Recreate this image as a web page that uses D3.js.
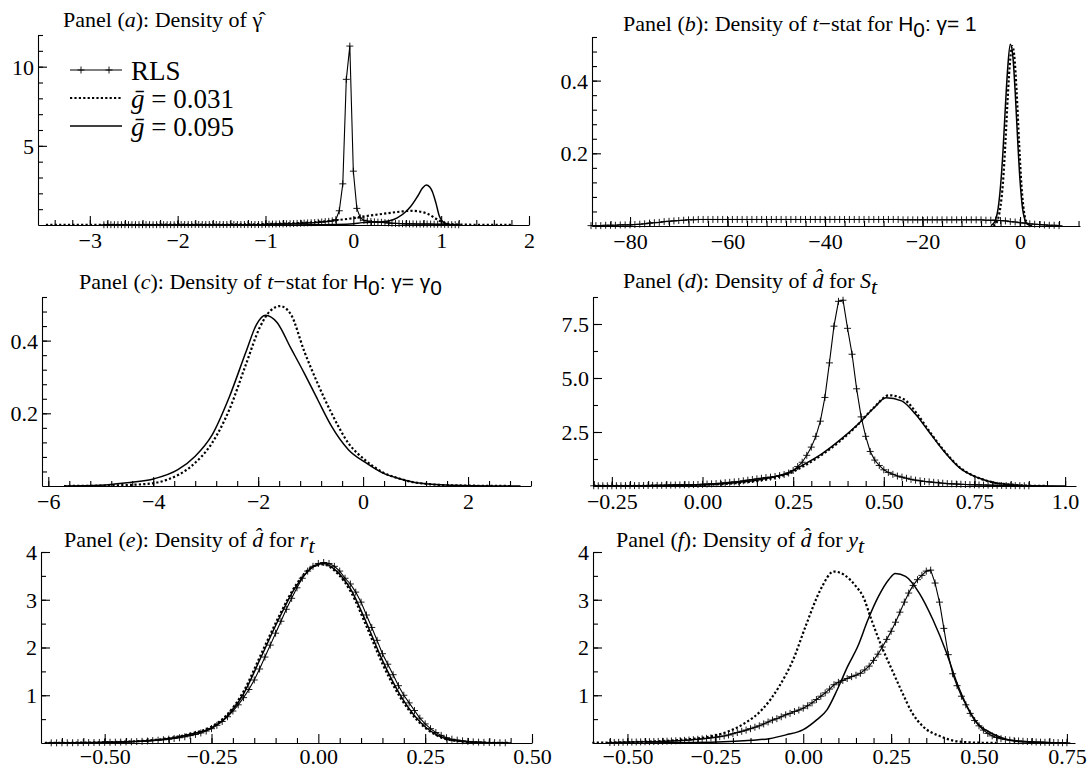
<!DOCTYPE html>
<html>
<head>
<meta charset="utf-8">
<script src="https://cdn.jsdelivr.net/npm/d3@7"></script>
<style>
body { margin: 0; background: #fff; }
svg text { font-family: "Liberation Serif", "Times New Roman", serif; fill: #000; }
</style>
</head>
<body>
<div id="chart"></div>
<script>
// Series names (legend of panel a).
var seriesNames = ["RLS", "0.031", "0.095"];

// Panel (a): density of gamma-hat.
var aRlsX0 = -2.84, aRlsDx = 0.04;
var aRls = [0.02,0.02,0.02,0.02,0.02,0.02,0.02,0.02,0.02,0.02,0.02,0.02,0.02,0.02,0.02,0.02,0.02,0.02,0.02,0.02,0.02,
    0.03,0.03,0.03,0.03,0.03,0.03,0.03,0.03,0.03,0.03,0.03,0.03,0.03,0.03,0.03,0.03,0.03,0.03,0.03,0.03,0.03,0.03,0.03,0.03,0.03,
    0.05,0.05,0.06,0.06,0.07,0.07,0.08,0.08,0.09,
    0.1,0.11,0.12,0.13,0.14,0.15,0.17,0.19,0.21,0.23,0.26,0.33,
    0.9,2.6,9.2,11.3,3.4,1.05,
    0.45,0.3,0.25,0.22,0.2,0.18,0.17,0.15,0.13,0.11,0.1,0.09,0.08,
    0.07,0.07,0.07,0.06,0.06,0.06,0.06,0.06,0.05,0.05,
    0.05,0.04,0.03,0.02,0.02,0.01];
var aG031 = [[-3.5,0.005],[-3,0.01],[-2.5,0.015],[-2,0.02],[-1.5,0.03],[-1,0.06],[-0.6,0.13],[-0.4,0.19],[-0.2,0.3],
    [0,0.43],[0.13,0.55],[0.33,0.7],[0.53,0.84],[0.65,0.9],[0.75,0.85],[0.85,0.7],[0.94,0.4],[1.04,0.12],
    [1.15,0.04],[1.3,0.02],[1.5,0.01],[1.82,0.005]];
var aG095 = [[-1.5,0],[-0.5,0.01],[-0.2,0.03],[0,0.08],[0.1,0.15],[0.2,0.18],[0.3,0.19],[0.4,0.25],[0.5,0.45],
    [0.6,0.85],[0.65,1.15],[0.73,1.8],[0.79,2.35],[0.83,2.53],[0.87,2.4],[0.9,2.1],[0.94,1.4],[0.98,0.55],
    [1.02,0.2],[1.06,0.08],[1.12,0.02],[1.2,0]];
var aXTicks = [-3,-2,-1,0,1,2];
var aXLabels = ["\u22123","\u22122","\u22121","0","1","2"];
var aYTicks = [5,10];
var aYLabels = ["5","10"];

// Panel (b): t-stat for H0: gamma = 1.
var bRlsX0 = -88, bRlsDx = 1;
var bRls = [0.001,0.001,0.001,0.002,0.002,0.002,0.003,0.003,0.003,
    0.004,0.005,0.006,0.008,0.009,0.01,0.012,0.013,0.014,0.015,0.016,0.017,0.017,
    0.018,0.018,0.018,0.018,0.018,0.018,0.018,0.018,0.018,0.018,0.018,0.018,0.018,0.018,0.018,0.018,0.018,0.018,0.018,0.018,0.018,0.018,
    0.018,0.018,0.018,0.018,0.018,0.018,0.018,0.018,0.018,0.018,0.018,0.018,0.018,0.018,0.018,0.018,0.018,0.018,0.018,0.018,
    0.017,0.017,0.017,0.017,0.017,0.017,0.017,0.017,0.017,0.017,0.017,0.017,0.017,0.017,0.017,
    0.017,0.017,0.016,0.016,0.016,0.015,0.014,
    0.012,0.011,0.009,0.008,0.006,0.005,0.004,0.003,0.002,0.002,0.001];
var bG031 = [[-5.5,0.001],[-5,0.006],[-4.5,0.02],[-4,0.055],[-3.5,0.12],[-3,0.23],[-2.5,0.36],[-2,0.46],[-1.6,0.495],
    [-1.2,0.47],[-0.7,0.37],[-0.2,0.23],[0.3,0.11],[0.8,0.04],[1.3,0.012],[2,0.002]];
var bG095 = [[-6,0.001],[-5.5,0.006],[-5,0.018],[-4.5,0.048],[-4,0.11],[-3.5,0.205],[-3,0.33],[-2.5,0.44],[-2,0.5],
    [-1.5,0.47],[-1,0.37],[-0.5,0.24],[0,0.125],[0.5,0.05],[1,0.017],[1.5,0.005],[2.5,0.001]];
var bXTicks = [-80,-60,-40,-20,0];
var bXLabels = ["\u221280","\u221260","\u221240","\u221220","0"];
var bYTicks = [0.2,0.4];
var bYLabels = ["0.2","0.4"];

// Panel (c): t-stat for H0: gamma = gamma0.
var cG031 = [[-5.7,0],[-5,0.001],[-4.18,0.005],[-3.72,0.018],[-3.27,0.055],[-2.88,0.118],[-2.55,0.21],[-2.23,0.336],
    [-1.97,0.436],[-1.77,0.482],[-1.58,0.495],[-1.38,0.473],[-1.12,0.37],[-0.86,0.28],[-0.6,0.2],[-0.28,0.118],
    [0.05,0.07],[0.37,0.038],[0.7,0.02],[1.02,0.009],[1.67,0.002],[2.8,0]];
var cG095 = [[-5.7,0],[-5,0.002],[-4.5,0.009],[-3.98,0.02],[-3.53,0.045],[-3.2,0.082],[-2.88,0.14],[-2.55,0.245],
    [-2.23,0.37],[-2.03,0.445],[-1.86,0.47],[-1.64,0.45],[-1.38,0.38],[-1.12,0.31],[-0.86,0.236],[-0.6,0.164],
    [-0.28,0.1],[0.05,0.064],[0.37,0.036],[0.7,0.02],[1.02,0.009],[1.67,0.002],[2.5,0],[3.0,0]];
var cXTicks = [-6,-4,-2,0,2];
var cXLabels = ["\u22126","\u22124","\u22122","0","2"];
var cYTicks = [0.2,0.4];
var cYLabels = ["0.2","0.4"];

// Panel (d): d-hat for S_t.
var dRlsX0 = -0.3, dRlsDx = 0.0125;
var dRls = [0.01,0.01,0.01,0.01,0.01,0.015,0.015,0.02,0.02,0.02,
    0.02,0.025,0.025,0.03,0.03,0.03,0.035,0.04,0.045,0.05,
    0.055,0.06,0.065,0.07,0.08,0.09,0.1,0.11,0.13,0.15,
    0.17,0.19,0.21,0.24,0.27,0.3,0.33,0.36,0.39,0.41,
    0.44,0.48,0.53,0.6,0.72,0.9,1.1,1.42,1.8,2.3,
    3.0,4.1,5.7,7.4,8.55,8.6,7.3,6.1,4.5,3.2,
    2.3,1.6,1.2,0.95,0.75,0.63,0.54,0.46,0.41,0.36,
    0.31,0.27,0.24,0.21,0.19,0.17,0.15,0.13,0.11,0.1,
    0.09,0.08,0.07,0.06,0.055,0.05,0.045,0.04,0.035,0.03,
    0.025,0.02,0.02,0.015,0.015,0.01,0.01];
var dG031 = [[-0.3,0.003],[-0.2,0.008],[-0.1,0.02],[0,0.05],[0.09,0.13],[0.186,0.34],[0.234,0.55],[0.28,0.93],
    [0.33,1.45],[0.377,2.05],[0.425,2.78],[0.472,3.62],[0.515,4.2],[0.555,4.02],[0.59,3.38],[0.625,2.55],
    [0.663,1.7],[0.71,0.85],[0.76,0.38],[0.806,0.15],[0.854,0.06],[0.9,0.015],[0.95,0.005]];
var dG095 = [[-0.3,0.005],[-0.2,0.01],[-0.1,0.025],[0,0.06],[0.09,0.15],[0.186,0.38],[0.234,0.6],[0.28,1.0],
    [0.33,1.5],[0.377,2.1],[0.425,2.8],[0.472,3.6],[0.506,4.09],[0.549,3.94],[0.587,3.33],[0.625,2.5],
    [0.663,1.67],[0.71,0.83],[0.76,0.38],[0.806,0.15],[0.854,0.06],[0.9,0.015],[1.0,0]];
var dXTicks = [-0.25,0,0.25,0.5,0.75,1];
var dXLabels = ["\u22120.25","0.00","0.25","0.50","0.75","1.0"];
var dYTicks = [2.5,5,7.5];
var dYLabels = ["2.5","5.0","7.5"];

// Panel (e): d-hat for r_t.
var eRlsX0 = -0.625, eRlsDx = 0.0125;
var eRls = [0.003,0.003,0.004,0.005,0.006,0.007,0.008,0.009,0.01,0.012,
    0.013,0.015,0.017,0.019,0.022,0.025,0.03,0.035,0.042,0.05,
    0.058,0.068,0.08,0.095,0.11,0.13,0.155,0.18,0.21,0.25,
    0.3,0.37,0.45,0.55,0.67,0.8,0.95,1.12,1.32,1.55,
    1.8,2.05,2.3,2.55,2.8,3.03,3.25,3.45,3.6,3.7,
    3.76,3.78,3.76,3.7,3.6,3.45,3.33,3.16,2.95,2.68,
    2.42,2.15,1.87,1.65,1.43,1.2,1.0,0.84,0.68,0.52,
    0.4,0.3,0.22,0.16,0.11,0.08,0.06,0.045,0.033,0.024,
    0.018,0.013,0.01,0.007,0.005,0.004];
var eG031 = [[-0.64,0.002],[-0.5,0.016],[-0.379,0.068],[-0.297,0.2],[-0.257,0.31],[-0.216,0.57],[-0.175,1.08],
    [-0.134,1.86],[-0.094,2.62],[-0.053,3.3],[-0.012,3.7],[0.01,3.74],[0.045,3.55],[0.077,3.15],[0.11,2.5],
    [0.15,1.66],[0.19,0.98],[0.232,0.47],[0.273,0.18],[0.313,0.055],[0.395,0.006],[0.45,0.002]];
var eG095 = [[-0.64,0.002],[-0.5,0.014],[-0.379,0.063],[-0.297,0.19],[-0.257,0.29],[-0.216,0.54],[-0.175,1.03],
    [-0.134,1.8],[-0.094,2.57],[-0.053,3.27],[-0.012,3.69],[0.012,3.76],[0.045,3.58],[0.077,3.2],[0.11,2.57],
    [0.15,1.73],[0.19,1.03],[0.232,0.5],[0.273,0.19],[0.313,0.06],[0.395,0.007],[0.45,0.002]];
var eXTicks = [-0.5,-0.25,0,0.25,0.5];
var eXLabels = ["\u22120.50","\u22120.25","0.00","0.25","0.50"];
var eYTicks = [1,2,3,4];
var eYLabels = ["1","2","3","4"];

// Panel (f): d-hat for y_t.
var fRlsX0 = -0.55, fRlsDx = 0.0125;
var fRls = [0.01,0.012,0.014,0.016,0.018,0.02,0.022,0.024,0.026,0.028,
    0.03,0.032,0.035,0.038,0.042,0.046,0.05,0.056,0.062,0.07,
    0.078,0.087,0.097,0.108,0.12,0.133,0.148,0.168,0.195,0.22,
    0.245,0.27,0.3,0.33,0.36,0.4,0.44,0.48,0.51,0.55,
    0.59,0.62,0.66,0.69,0.73,0.78,0.84,0.91,0.98,1.05,
    1.13,1.22,1.27,1.31,1.35,1.39,1.42,1.46,1.53,1.61,
    1.73,1.86,2.01,2.17,2.34,2.53,2.74,2.95,3.14,3.3,
    3.42,3.51,3.6,3.62,3.35,2.95,2.4,1.85,1.45,1.2,
    0.98,0.8,0.62,0.47,0.36,0.27,0.2,0.15,0.115,0.09,
    0.072,0.06,0.05,0.043,0.036,0.03,0.025,0.021,0.018,0.015,
    0.012,0.01,0.008,0.006,0.005];
var fG031 = [[-0.6,0.005],[-0.485,0.02],[-0.34,0.07],[-0.272,0.125],[-0.214,0.24],[-0.165,0.42],[-0.117,0.7],
    [-0.068,1.19],[-0.029,1.74],[0.01,2.51],[0.049,3.21],[0.087,3.59],[0.117,3.52],[0.15,3.28],[0.17,3.07],
    [0.194,2.58],[0.223,2.02],[0.252,1.54],[0.282,1.05],[0.31,0.63],[0.34,0.35],[0.39,0.14],[0.437,0.035],
    [0.485,0.01],[0.55,0.002]];
var fG095 = [[-0.45,0.002],[-0.243,0.02],[-0.146,0.056],[-0.097,0.09],[-0.049,0.17],[0,0.28],[0.039,0.49],
    [0.068,0.7],[0.097,1.12],[0.126,1.6],[0.155,2.02],[0.184,2.58],[0.214,3.07],[0.243,3.42],[0.262,3.55],
    [0.291,3.49],[0.33,3.14],[0.369,2.58],[0.408,1.88],[0.437,1.26],[0.466,0.77],[0.495,0.42],[0.534,0.21],
    [0.583,0.07],[0.631,0.02],[0.7,0.005]];
var fXTicks = [-0.5,-0.25,0,0.25,0.5,0.75];
var fXLabels = ["\u22120.50","\u22120.25","0.00","0.25","0.50","0.75"];
var fYTicks = [1,2,3,4];
var fYLabels = ["1","2","3","4"];

// Build an RLS series from its evaluation grid.
var gridSeries = function(x0, dx, ys) {
    return ys.map(function(v, i) { return [x0 + i*dx, v]; });
};

var panels = [
    { box: {l: 38, r: 529, t: 35, b: 225}, xDomain: [-3.59, 2], yDomain: [0, 12], pad: 7,
      xTicks: aXTicks, xLabels: aXLabels, xMinor: 0.2, yTicks: aYTicks, yLabels: aYLabels, yMinor: 1,
      rls: gridSeries(aRlsX0, aRlsDx, aRls), g031: aG031, g095: aG095,
      title: [["Panel (",""],["a","i"],["): Density of ",""],["\u03b3\u0302",""]], tx: 63, ty: 27 },
    { box: {l: 592, r: 1080, t: 37, b: 226}, xDomain: [-87.8, 12.3], yDomain: [0, 0.52], pad: 7,
      xTicks: bXTicks, xLabels: bXLabels, xMinor: 4, yTicks: bYTicks, yLabels: bYLabels, yMinor: 0.04,
      rls: gridSeries(bRlsX0, bRlsDx, bRls), g031: bG031, g095: bG095,
      title: [["Panel (",""],["b","i"],["): Density of ",""],["t","i"],["\u2212stat for ",""],["H","s"],["0","ssub"],[": \u03b3= 1","s"]], tx: 623, ty: 31 },
    { box: {l: 42, r: 531, t: 297, b: 486}, xDomain: [-6.12, 3.2], yDomain: [0, 0.52], pad: 7,
      xTicks: cXTicks, xLabels: cXLabels, xMinor: 0.4, yTicks: cYTicks, yLabels: cYLabels, yMinor: 0.04,
      rls: null, g031: cG031, g095: cG095,
      title: [["Panel (",""],["c","i"],["): Density of ",""],["t","i"],["\u2212stat for ",""],["H","s"],["0","ssub"],[": \u03b3= \u03b3","s"],["0","ssub"]], tx: 79, ty: 289 },
    { box: {l: 593, r: 1076, t: 297, b: 486}, xDomain: [-0.302, 1.03], yDomain: [0, 8.75], pad: 7,
      xTicks: dXTicks, xLabels: dXLabels, xMinor: 0.05, yTicks: dYTicks, yLabels: dYLabels, yMinor: 1.25,
      rls: gridSeries(dRlsX0, dRlsDx, dRls), g031: dG031, g095: dG095,
      title: [["Panel (",""],["d","i"],["): Density of ",""],["d\u0302","i"],[" for ",""],["S","i"],["t","isub"]], tx: 623, ty: 288 },
    { box: {l: 41, r: 532, t: 552, b: 743}, xDomain: [-0.649, 0.5], yDomain: [0, 4], pad: 5,
      xTicks: eXTicks, xLabels: eXLabels, xMinor: 0.05, yTicks: eYTicks, yLabels: eYLabels, yMinor: 0.5,
      rls: gridSeries(eRlsX0, eRlsDx, eRls), g031: eG031, g095: eG095,
      title: [["Panel (",""],["e","i"],["): Density of ",""],["d\u0302","i"],[" for ",""],["r","i"],["t","isub"]], tx: 64, ty: 547 },
    { box: {l: 593, r: 1075, t: 552, b: 743}, xDomain: [-0.598, 0.773], yDomain: [0, 4], pad: 5,
      xTicks: fXTicks, xLabels: fXLabels, xMinor: 0.05, yTicks: fYTicks, yLabels: fYLabels, yMinor: 0.5,
      rls: gridSeries(fRlsX0, fRlsDx, fRls), g031: fG031, g095: fG095,
      title: [["Panel (",""],["f","i"],["): Density of ",""],["d\u0302","i"],[" for ",""],["y","i"],["t","isub"]], tx: 616, ty: 547 }
];

var svg = d3.select("#chart").append("svg")
        .attr("width", 1088)
        .attr("height", 770);

var crossPath = "M-3.5,0H3.5M0,-3.5V3.5";

// Rich text: roman / italic / sans pieces with optional subscript.
var richText = function(parent, segs, x, y, size) {
    var t = parent.append("text").attr("x", x).attr("y", y).attr("font-size", size);
    var shift = 0;
    segs.forEach(function(s) {
        var st = s[1];
        var ts = t.append("tspan").text(s[0]);
        var want = /sub$/.test(st) ? Math.round(size*0.28) : 0;
        if(want !== shift) { ts.attr("dy", want - shift); shift = want; }
        if(st.charAt(0) === "i") ts.attr("font-style", "italic");
        if(st.charAt(0) === "s") ts.style("font-family", "'Liberation Sans', Arial, sans-serif").attr("font-size", size*0.95);
    });
    return t;
};

var minorValues = function(domain, step) {
    var start = Math.ceil(domain[0]/step - 1e-6)*step;
    return d3.range(start, domain[1] + step*1e-3, step).filter(function(v) { return Math.abs(v) > 1e-9; });
};

var drawPanel = function(p) {
    var x = d3.scaleLinear().domain(p.xDomain).range([p.box.l, p.box.r]);
    var y = d3.scaleLinear().domain(p.yDomain).range([p.box.b, p.box.t]);
    var g = svg.append("g");

    // Minor ticks.
    var xm = g.append("g").attr("transform", "translate(0," + p.box.b + ")")
            .call(d3.axisBottom(x).tickValues(minorValues(p.xDomain, p.xMinor)).tickSize(-5).tickFormat(""));
    xm.select(".domain").remove();
    var ym = g.append("g").attr("transform", "translate(" + p.box.l + ",0)")
            .call(d3.axisLeft(y).tickValues(minorValues(p.yDomain, p.yMinor)).tickSize(-5).tickFormat(""));
    ym.select(".domain").remove();

    // Major ticks with labels.
    var xa = g.append("g").attr("transform", "translate(0," + p.box.b + ")")
            .call(d3.axisBottom(x).tickValues(p.xTicks).tickSize(-9).tickSizeOuter(0).tickPadding(p.pad)
                .tickFormat(function(d, i) { return p.xLabels[i]; }));
    var ya = g.append("g").attr("transform", "translate(" + p.box.l + ",0)")
            .call(d3.axisLeft(y).tickValues(p.yTicks).tickSize(-9).tickSizeOuter(0).tickPadding(4)
                .tickFormat(function(d, i) { return p.yLabels[i]; }));
    [xm, ym, xa, ya].forEach(function(a) {
        a.attr("font-family", null).attr("font-size", 22).attr("color", "#000");
        a.selectAll("path,line").attr("stroke-width", 1.1);
    });
    xa.selectAll("text").attr("dy", "0.71em");
    ya.selectAll("text").attr("dy", "0.34em");

    var lineSmooth = d3.line().x(function(d) { return x(d[0]); }).y(function(d) { return y(d[1]); }).curve(d3.curveMonotoneX);
    var lineStraight = d3.line().x(function(d) { return x(d[0]); }).y(function(d) { return y(d[1]); });

    g.append("path").attr("d", lineSmooth(p.g095))
            .attr("fill", "none").attr("stroke", "#000").attr("stroke-width", 1.5);
    g.append("path").attr("d", lineSmooth(p.g031))
            .attr("fill", "none").attr("stroke", "#000").attr("stroke-width", 2.2)
            .attr("stroke-dasharray", "2.2,2.2");
    if(p.rls) {
        g.append("path").attr("d", lineStraight(p.rls))
                .attr("fill", "none").attr("stroke", "#000").attr("stroke-width", 1.1);
        g.selectAll("path.cross").data(p.rls).enter().append("path")
                .attr("class", "cross")
                .attr("d", crossPath)
                .attr("transform", function(d) { return "translate(" + x(d[0]) + "," + y(d[1]) + ")"; })
                .attr("fill", "none").attr("stroke", "#000").attr("stroke-width", 0.9);
    }

    richText(svg, p.title, p.tx, p.ty, 22);
};

panels.forEach(drawPanel);

// Legend inside panel (a).
var legend = svg.append("g");
var legendRows = [70, 98, 126];
legend.append("line").attr("x1", 70).attr("x2", 122).attr("y1", legendRows[0]).attr("y2", legendRows[0])
        .attr("stroke", "#000").attr("stroke-width", 1.1);
[81, 109].forEach(function(cx) {
    legend.append("path").attr("d", crossPath).attr("transform", "translate(" + cx + "," + legendRows[0] + ")")
            .attr("stroke", "#000").attr("stroke-width", 0.9);
});
legend.append("line").attr("x1", 70).attr("x2", 122).attr("y1", legendRows[1]).attr("y2", legendRows[1])
        .attr("stroke", "#000").attr("stroke-width", 2.2).attr("stroke-dasharray", "2.2,2.2");
legend.append("line").attr("x1", 70).attr("x2", 122).attr("y1", legendRows[2]).attr("y2", legendRows[2])
        .attr("stroke", "#000").attr("stroke-width", 1.5);
richText(legend, [[seriesNames[0], ""]], 131, legendRows[0] + 10, 27);
richText(legend, [["g\u0304", "i"], [" = " + seriesNames[1], ""]], 131, legendRows[1] + 10, 27);
richText(legend, [["g\u0304", "i"], [" = " + seriesNames[2], ""]], 131, legendRows[2] + 10, 27);
</script>
</body>
</html>
